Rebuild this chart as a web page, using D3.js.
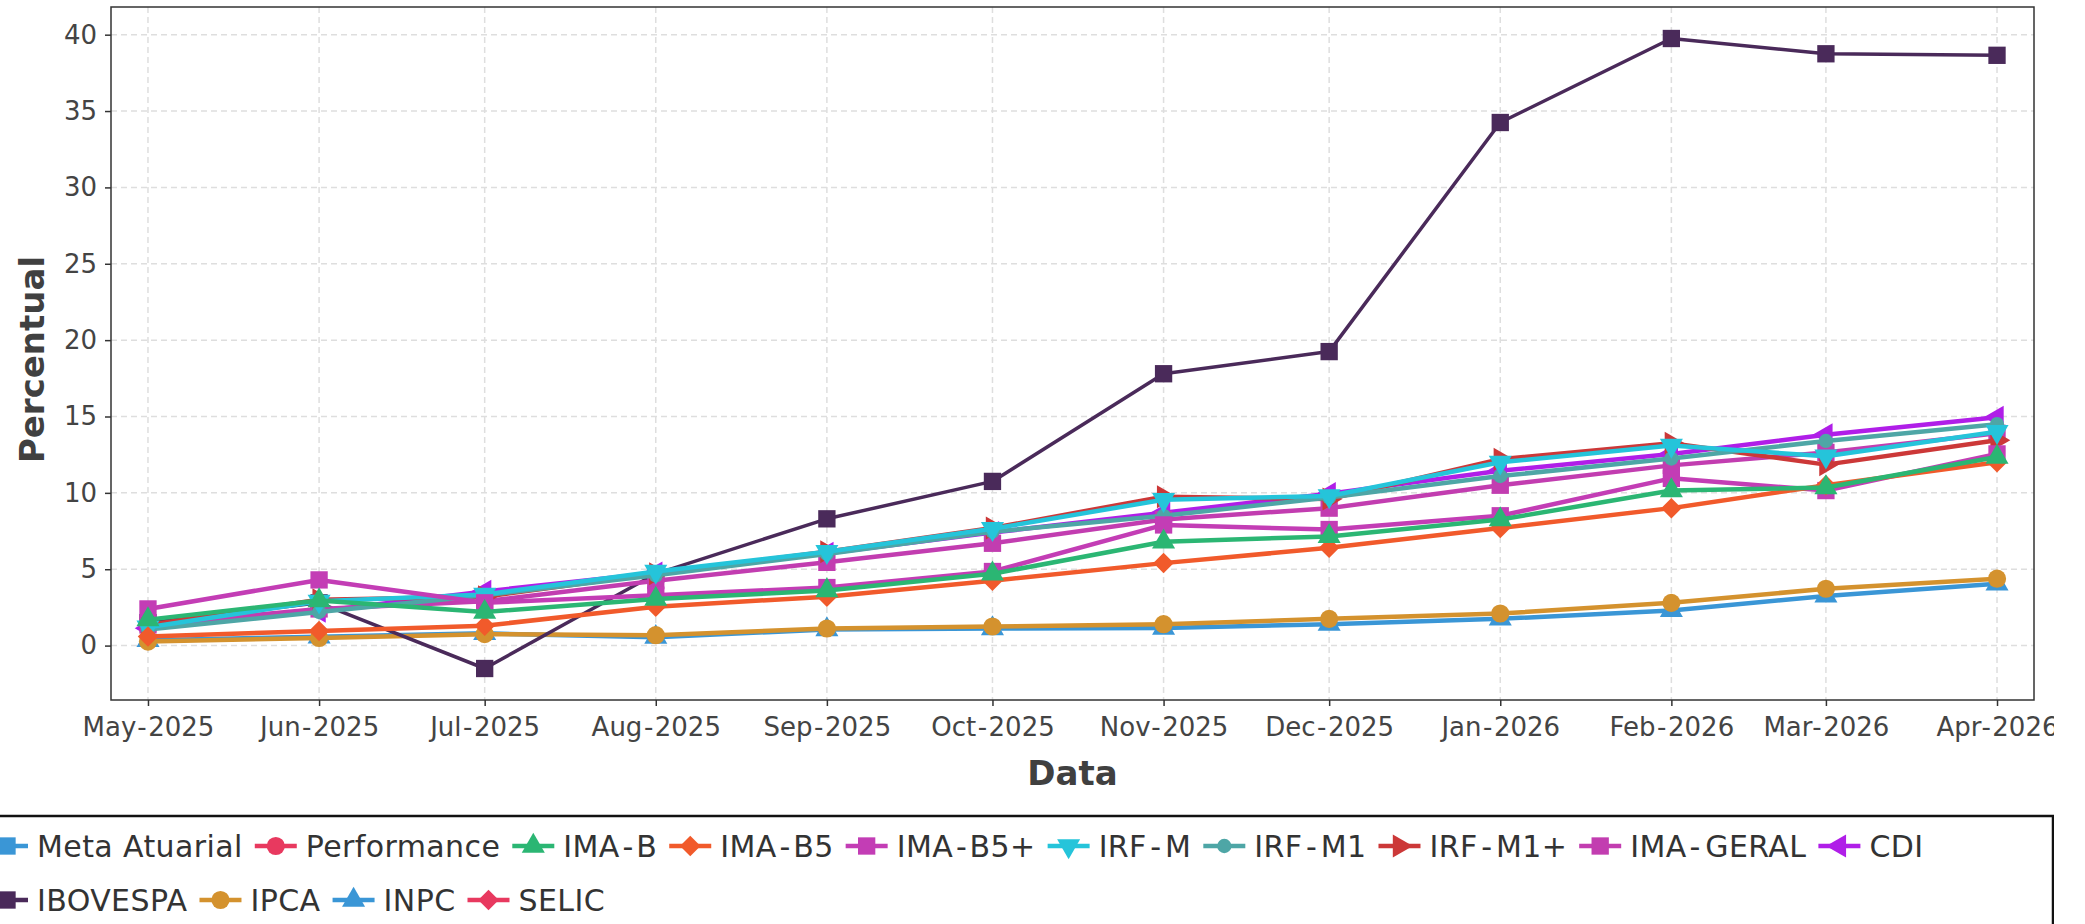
<!DOCTYPE html>
<html>
<head>
<meta charset="utf-8">
<script src="https://cdn.jsdelivr.net/npm/d3@7"></script>
<style>
    body { margin: 0; background: #ffffff; }
    svg { display: block; font-family: "DejaVu Sans", sans-serif; }
</style>
</head>
<body>
<div id="vis"></div>
<script>

// data (cumulative %, monthly)
const MONTHS = ["2025-05-01", "2025-06-01", "2025-07-01", "2025-08-01", "2025-09-01", "2025-10-01",
                "2025-11-01", "2025-12-01", "2026-01-01", "2026-02-01", "2026-03-01", "2026-04-01"];

const SERIES_NAMES = ["Meta Atuarial", "Performance", "IMA-B", "IMA-B5", "IMA-B5+", "IRF-M",
                      "IRF-M1", "IRF-M1+", "IMA-GERAL", "CDI", "IBOVESPA", "IPCA", "INPC", "SELIC"];

const META_ATUARIAL = [];
const PERFORMANCE = [];
const IMA_B =     [1.70, 2.95, 2.20, 3.05, 3.60, 4.70, 6.80, 7.15, 8.25, 10.15, 10.35, 12.35];
const IMA_B5 =    [0.60, 0.95, 1.30, 2.55, 3.20, 4.25, 5.40, 6.40, 7.70, 9.00, 10.50, 12.00];
const IMA_B5P =   [2.40, 4.30, 2.80, 3.30, 3.80, 4.85, 7.90, 7.60, 8.50, 10.95, 10.15, 12.55];
const IRF_M =     [1.20, 2.90, 3.35, 4.85, 6.15, 7.65, 9.55, 9.80, 12.00, 13.10, 12.40, 14.00];
const IRF_M1 =    [1.05, 2.20, 3.30, 4.60, 6.00, 7.45, 8.50, 9.70, 11.10, 12.25, 13.40, 14.50];
const IRF_M1P =   [1.35, 3.00, 3.20, 4.70, 6.15, 7.70, 9.75, 9.60, 12.20, 13.25, 11.85, 13.45];
const IMA_GERAL = [1.35, 2.40, 2.90, 4.25, 5.45, 6.70, 8.25, 9.00, 10.50, 11.80, 12.65, 13.90];
const CDI =       [1.14, 2.25, 3.55, 4.75, 6.05, 7.40, 8.70, 9.95, 11.45, 12.55, 13.80, 14.95];
const IBOVESPA =  [1.50, 2.80, -1.50, 4.70, 8.30, 10.75, 17.80, 19.25, 34.25, 39.75, 38.75, 38.65];
const IPCA =      [0.26, 0.50, 0.75, 0.68, 1.12, 1.25, 1.40, 1.75, 2.10, 2.80, 3.72, 4.38];
const INPC =      [0.35, 0.58, 0.80, 0.55, 1.05, 1.12, 1.15, 1.40, 1.75, 2.30, 3.25, 4.05];
const SELIC = [];

const Y_TICKS = [0, 5, 10, 15, 20, 25, 30, 35, 40];

// styles
const COLORS = ["#3a96d6", "#e8395f", "#2bb673", "#f15a2b", "#c33db5", "#25c4da",
                "#4ea6a6", "#cc3838", "#c23db0", "#b01ee8", "#4a2a5a", "#d4922e", "#3a96d6", "#e8395f"];
const SHAPES = ["square", "circle", "up", "diamond", "square", "down",
                "small", "right", "square", "left", "square", "circle", "up", "diamond"];

const VALUES = [META_ATUARIAL, PERFORMANCE, IMA_B, IMA_B5, IMA_B5P, IRF_M, IRF_M1,
                IRF_M1P, IMA_GERAL, CDI, IBOVESPA, IPCA, INPC, SELIC];

const FRAME_WIDTH = 2054;
const FRAME_HEIGHT = 924;
const PLOT = {left: 111, right: 2034, top: 7, bottom: 700};

const FRAME = d3.select("#vis")
                .append("svg")
                    .attr("width", FRAME_WIDTH)
                    .attr("height", FRAME_HEIGHT);

const parseDate = d3.timeParse("%Y-%m-%d");
const DATES = MONTHS.map(parseDate);
const DAY = 24 * 3600 * 1000;

// x: time scale with a small pad each side
const X_SCALE = d3.scaleTime()
                    .domain([new Date(+DATES[0] - 6.7 * DAY), new Date(+DATES[DATES.length - 1] + 6.7 * DAY)])
                    .range([PLOT.left, PLOT.right]);

// y: data range expanded 5% like ggplot
const ALL = VALUES.flat();
const Y_MIN = d3.min(ALL);
const Y_MAX = d3.max(ALL);
const PAD = (Y_MAX - Y_MIN) * 0.05;
const Y_SCALE = d3.scaleLinear()
                    .domain([Y_MIN - PAD, Y_MAX + PAD])
                    .range([PLOT.bottom, PLOT.top]);

// the source font has a wide hyphen, so pad it a little
function hyphenText(sel, str, pad) {
    sel.text(null);
    str.split("-").forEach((part, k) => {
        if (k > 0) {
            sel.append("tspan").attr("dx", pad).text("-");
        }
        sel.append("tspan").attr("dx", k > 0 ? pad : 0).text(part);
    });
}

// grid
FRAME.append("g")
    .selectAll("line")
    .data(Y_TICKS)
    .enter()
    .append("line")
        .attr("x1", PLOT.left)
        .attr("x2", PLOT.right)
        .attr("y1", (d) => Y_SCALE(d))
        .attr("y2", (d) => Y_SCALE(d))
        .attr("stroke", "#dedede")
        .attr("stroke-width", 1.5)
        .attr("stroke-dasharray", "6,4");

FRAME.append("g")
    .selectAll("line")
    .data(DATES)
    .enter()
    .append("line")
        .attr("x1", (d) => X_SCALE(d))
        .attr("x2", (d) => X_SCALE(d))
        .attr("y1", PLOT.top)
        .attr("y2", PLOT.bottom)
        .attr("stroke", "#dedede")
        .attr("stroke-width", 1.5)
        .attr("stroke-dasharray", "6,4");

// axes
const X_AXIS = FRAME.append("g")
    .attr("transform", "translate(0," + PLOT.bottom + ")")
    .call(d3.axisBottom(X_SCALE)
            .tickValues(DATES)
            .tickFormat(d3.timeFormat("%b-%Y"))
            .tickSize(6)
            .tickPadding(12));

const Y_AXIS = FRAME.append("g")
    .attr("transform", "translate(" + PLOT.left + ",0)")
    .call(d3.axisLeft(Y_SCALE)
            .tickValues(Y_TICKS)
            .tickSize(6)
            .tickPadding(8));

[X_AXIS, Y_AXIS].forEach((ax) => {
    ax.select(".domain").remove();
    ax.selectAll(".tick line").attr("stroke", "#333").attr("stroke-width", 1.5);
    ax.selectAll(".tick text")
        .attr("fill", "#444")
        .attr("font-size", "26px")
        .attr("font-family", "DejaVu Sans, sans-serif");
});

X_AXIS.selectAll(".tick text").each(function () {
    const t = d3.select(this);
    hyphenText(t, t.text(), 1.5);
});

// symbol helper
function symbolPath(shape) {
    if (shape === "square") return d3.symbol().type(d3.symbolSquare).size(300)();
    if (shape === "circle") return d3.symbol().type(d3.symbolCircle).size(260)();
    if (shape === "small") return d3.symbol().type(d3.symbolCircle).size(160)();
    if (shape === "diamond") return d3.symbol().type(d3.symbolSquare).size(210)();
    return d3.symbol().type(d3.symbolTriangle).size(230)();
}

function symbolRotate(shape) {
    if (shape === "diamond") return 45;
    if (shape === "down") return 180;
    if (shape === "right") return 90;
    if (shape === "left") return -90;
    return 0;
}

const LINE = d3.line()
                .x((d) => X_SCALE(d.date))
                .y((d) => Y_SCALE(d.value));

// draw in reverse legend order so early series sit on top
const ORDER = d3.range(SERIES_NAMES.length).reverse();

ORDER.forEach((i) => {
    const points = VALUES[i].map((v, j) => ({date: DATES[j], value: v}));
    if (points.length === 0) return;

    const g = FRAME.append("g").attr("class", "series");

    g.append("path")
        .datum(points)
        .attr("d", LINE)
        .attr("fill", "none")
        .attr("stroke", COLORS[i])
        .attr("stroke-width", SERIES_NAMES[i] === "IBOVESPA" ? 3.5 : 4.5)
        .attr("stroke-linejoin", "round");

    g.selectAll("path.pt")
        .data(points)
        .enter()
        .append("path")
            .attr("class", "pt")
            .attr("d", symbolPath(SHAPES[i]))
            .attr("transform", (d) => "translate(" + X_SCALE(d.date) + "," + Y_SCALE(d.value) +
                ") rotate(" + symbolRotate(SHAPES[i]) + ")")
            .attr("fill", COLORS[i]);
});

// plot border
FRAME.append("rect")
    .attr("x", PLOT.left)
    .attr("y", PLOT.top)
    .attr("width", PLOT.right - PLOT.left)
    .attr("height", PLOT.bottom - PLOT.top)
    .attr("fill", "none")
    .attr("stroke", "#333")
    .attr("stroke-width", 1.5);

// axis titles
FRAME.append("text")
    .attr("x", (PLOT.left + PLOT.right) / 2)
    .attr("y", 785)
    .attr("text-anchor", "middle")
    .attr("font-size", "34px")
    .attr("font-weight", "bold")
    .attr("fill", "#404040")
    .text("Data");

FRAME.append("text")
    .attr("transform", "translate(44," + ((PLOT.top + PLOT.bottom) / 2 + 6) + ") rotate(-90)")
    .attr("text-anchor", "middle")
    .attr("font-size", "34px")
    .attr("font-weight", "bold")
    .attr("fill", "#404040")
    .text("Percentual");

// legend
const LEGEND = FRAME.append("g");

LEGEND.append("rect")
    .attr("x", -30)
    .attr("y", 816)
    .attr("width", 2083)
    .attr("height", 200)
    .attr("fill", "none")
    .attr("stroke", "#111")
    .attr("stroke-width", 2.5);

const KEY_W = 42;
const ROW_Y = [846, 900];
let lx = -14;
let row = 0;

SERIES_NAMES.forEach((name, i) => {
    const item = LEGEND.append("g");
    const label = item.append("text")
        .attr("x", KEY_W + 9)
        .attr("y", 0)
        .attr("dy", "0.36em")
        .attr("font-size", "30px")
        .attr("letter-spacing", "0.4px")
        .attr("fill", "#333");
    hyphenText(label, name, 3.5);
    const w = label.node().getBBox().width;
    if (lx + KEY_W + 9 + w > 2045) {
        row += 1;
        lx = -14;
    }
    item.attr("transform", "translate(" + lx + "," + ROW_Y[row] + ")");

    item.append("line")
        .attr("x1", 0)
        .attr("x2", KEY_W)
        .attr("stroke", COLORS[i])
        .attr("stroke-width", 4.5);

    item.append("path")
        .attr("d", symbolPath(SHAPES[i]))
        .attr("transform", "translate(" + (KEY_W / 2) + ",0) rotate(" + symbolRotate(SHAPES[i]) + ")")
        .attr("fill", COLORS[i]);

    lx += KEY_W + 9 + w + 12;
});

</script>
</body>
</html>
